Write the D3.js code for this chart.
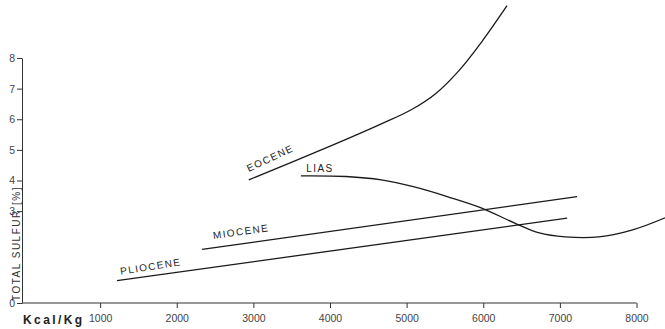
<!DOCTYPE html>
<html>
<head>
  <title>Total sulfur vs calorific value</title>
  <style>
    html, body { margin:0; padding:0; background:white; }
    svg { display:block; }
    .tick-lbl { font-family: "Liberation Sans", Arial, sans-serif; font-size: 10.5px; fill: #444; }
    .era { font-family: "Liberation Sans", Arial, sans-serif; font-size: 10px; fill: #222; letter-spacing: 1.4px; }
  </style>
  <script src="https://d3js.org/d3.v7.min.js"></script>
</head>
<body>
<svg id="chart" width="665" height="329"></svg>
<script>
  // values (x in kcal/kg, y in % total sulfur)
  var eoceneX = [2940, 4010, 4670, 5060, 5390, 5680, 5980, 6310];
  var eoceneY = [4.02, 5.13, 5.85, 6.31, 6.86, 7.58, 8.53, 9.71];
  var liasX = [3620, 4210, 4670, 5100, 5550, 5980, 6410, 6730, 7070, 7510, 7950, 8400];
  var liasY = [4.15, 4.13, 4.02, 3.79, 3.46, 3.10, 2.61, 2.29, 2.16, 2.16, 2.39, 2.81];
  var mioceneX = [2330, 7225];
  var mioceneY = [1.75, 3.47];
  var plioceneX = [1220, 7095];
  var plioceneY = [0.73, 2.77];

  var xTicks = [1000, 2000, 3000, 4000, 5000, 6000, 7000, 8000];
  var yTicks = [0, 3, 4, 5, 6, 7, 8];

  var svg = d3.select("#chart");
  svg.append("rect").attr("width", 665).attr("height", 329).attr("fill", "white");

  var x = d3.scaleLinear().domain([0, 8000]).range([23.5, 636.5]);
  var y = d3.scaleLinear().domain([0, 8]).range([303, 58]);

  // axes
  var xAxis = d3.axisBottom(x).tickValues(xTicks).tickFormat(d3.format("d"))
    .tickSize(5).tickSizeOuter(0).tickPadding(7);
  var gx = svg.append("g").attr("transform", "translate(0," + y(0) + ")").call(xAxis);
  gx.select(".domain").attr("d", "M22,0H" + x(8000)).attr("stroke", "#333");
  gx.selectAll(".tick line").attr("stroke", "#333");
  gx.selectAll(".tick text").attr("class", "tick-lbl").attr("font-size", null).attr("font-family", null);

  var yAxis = d3.axisLeft(y).tickValues(yTicks).tickFormat(d3.format("d"))
    .tickSize(5).tickSizeOuter(0).tickPadding(2);
  var gy = svg.append("g").attr("transform", "translate(22,0)").call(yAxis);
  gy.select(".domain").attr("stroke", "#333");
  gy.selectAll(".tick line").attr("stroke", "#333");
  gy.selectAll(".tick text").attr("class", "tick-lbl").attr("font-size", null).attr("font-family", null);

  svg.append("text").text("Kcal/Kg")
    .attr("x", 23).attr("y", 324)
    .style("font-family", "Liberation Sans, Arial, sans-serif")
    .style("font-weight", "bold")
    .style("font-size", "12px")
    .style("letter-spacing", "2.4px")
    .style("fill", "#222");

  svg.append("text").text("TOTAL SULFUR [%]")
    .attr("transform", "translate(20,301) rotate(-90)")
    .style("font-family", "Liberation Sans, Arial, sans-serif")
    .style("font-size", "10px")
    .style("letter-spacing", "1.5px")
    .style("fill", "#333");

  // curves
  var line = d3.line().x(function(d) { return x(d[0]); }).y(function(d) { return y(d[1]); })
    .curve(d3.curveCatmullRom.alpha(0.5));
  var series = [[eoceneX, eoceneY], [liasX, liasY], [mioceneX, mioceneY], [plioceneX, plioceneY]];
  series.forEach(function(s) {
    svg.append("path")
      .datum(d3.zip(s[0], s[1]))
      .attr("d", line)
      .attr("fill", "none")
      .attr("stroke", "#1a1a1a")
      .attr("stroke-width", 1.3);
  });

  // era labels
  function era(name, xv, yv, ang) {
    svg.append("text").attr("class", "era").text(name)
      .attr("transform", "translate(" + x(xv) + "," + y(yv) + ") rotate(" + ang + ")");
  }
  era("EOCENE", 2940, 4.28, -25);
  era("LIAS", 3690, 4.28, 0);
  era("MIOCENE", 2480, 2.09, -8);
  era("PLIOCENE", 1270, 0.92, -9);
</script>
</body>
</html>
